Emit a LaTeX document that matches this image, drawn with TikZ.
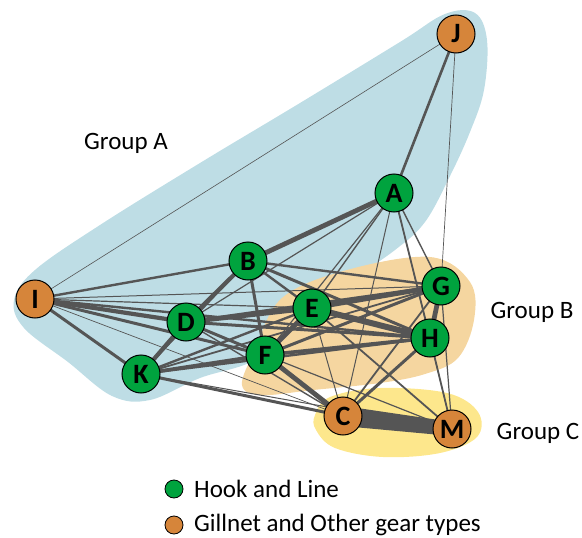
\documentclass[tikz,border=0pt]{standalone}
\usepackage{fontspec}
\setmainfont{Carlito}
\usetikzlibrary{calc}
\definecolor{hullA}{RGB}{190,221,229}
\definecolor{hullB}{RGB}{245,214,160}
\definecolor{hullC}{RGB}{253,231,140}
\definecolor{hookgreen}{RGB}{0,163,62}
\definecolor{gillorange}{RGB}{214,133,58}
\definecolor{linkgrey}{RGB}{85,85,85}
\begin{document}
\begin{tikzpicture}[x=1pt,y=-1pt,
  vessel/.style={circle,draw=black,line width=1pt,minimum size=38pt,inner sep=0pt,
    font=\fontsize{28}{28}\selectfont\bfseries},
  hook/.style={vessel,fill=hookgreen},
  gill/.style={vessel,fill=gillorange},
  link/.style={draw=linkgrey,line cap=round},
  grouplabel/.style={font=\fontsize{25}{25}\selectfont,inner sep=0pt},
  legenddot/.style={circle,draw=black,line width=0.8pt,minimum size=18pt,inner sep=0pt},
  legendtext/.style={font=\fontsize{25}{25}\selectfont,inner sep=0pt,anchor=west}]
\useasboundingbox (0,0) rectangle (582,538);

% group hulls
\fill[hullA] plot[smooth cycle,tension=0.6] coordinates {
  (14,300) (35,270) (100,225) (200,163) (300,103) (400,42) (445,14) (475,13)
  (487,40) (484,90) (470,132) (450,176) (425,222) (395,250) (345,285)
  (300,322) (255,360) (200,378) (150,400) (112,396) (68,362) (24,328)};
\fill[hullB] plot[smooth cycle,tension=0.6] coordinates {
  (242,385) (255,350) (282,298) (347,270) (430,257) (470,282) (474,320)
  (458,358) (425,374) (380,383) (313,390) (262,395)};
\fill[hullC] plot[smooth cycle,tension=0.6] coordinates {
  (315,415) (330,397) (380,388) (447,393) (478,412) (477,437) (440,453)
  (383,457) (335,448) (316,430)};

% vessels (coordinates first so links sit under the discs)
\coordinate (J) at (456,34);
\coordinate (A) at (394,193);
\coordinate (B) at (248,261);
\coordinate (I) at (35,299);
\coordinate (D) at (186,322);
\coordinate (E) at (312,308);
\coordinate (G) at (441,286);
\coordinate (H) at (430,338);
\coordinate (F) at (265,355);
\coordinate (K) at (141,374);
\coordinate (C) at (343,416);
\coordinate (M) at (452,429);

% links, line width ~ strength
\foreach \a/\b/\w in {
  J/A/2.6, J/I/0.6, J/G/0.7,
  A/B/4.8, A/D/1.2, A/E/1.4, A/F/1.2, A/C/1, A/H/1.8, A/G/1.4, A/M/0.7,
  I/B/2.4, I/G/1, I/E/1.2, I/D/4.2, I/F/3, I/H/2.4, I/K/3, I/C/0.7,
  B/D/4.2, B/K/1.2, B/F/3, B/E/2.4, B/G/2.4, B/H/3,
  D/E/4.8, D/G/3, D/H/3, D/F/3, D/K/4.2, D/C/1.4,
  E/G/4.8, E/H/6, E/F/4.8, E/K/2.4, E/C/1, E/M/1.8,
  G/H/4.8, G/F/3, G/K/1.8, G/C/1.8, G/M/1.2,
  H/F/3.6, H/K/2.4, H/C/3, H/M/1.8,
  F/K/3.6, F/C/4.8, F/M/1.2,
  K/C/3, K/M/1}
  \draw[link,line width=\w pt] (\a) -- (\b);
% strongest link, tapering from C to M
\fill[linkgrey] ($(C)!10pt!90:(M)$) -- ($(M)!7pt!-90:(C)$)
  -- ($(M)!7pt!90:(C)$) -- ($(C)!10pt!-90:(M)$) -- cycle;

% vessel discs
\node[gill] (nJ) at (J) {J};
\node[hook] (nA) at (A) {A};
\node[hook] (nB) at (B) {B};
\node[gill] (nI) at (I) {I};
\node[hook] (nD) at (D) {D};
\node[hook] (nE) at (E) {E};
\node[hook] (nG) at (G) {G};
\node[hook] (nH) at (H) {H};
\node[hook] (nF) at (F) {F};
\node[hook] (nK) at (K) {K};
\node[gill] (nC) at (C) {C};
\node[gill] (nM) at (M) {M};

% group labels
\node[grouplabel] (gA) at (126,143) {Group A};
\node[grouplabel] (gB) at (532,312) {Group B};
\node[grouplabel] (gC) at (538,433) {Group C};

% legend
\node[legenddot,fill=hookgreen] (lg) at (174,489) {};
\node[legendtext] (lgt) at (194,489) {Hook and Line};
\node[legenddot,fill=gillorange] (lo) at (174,525) {};
\node[legendtext] (lot) at (194,525) {Gillnet and Other gear types};
\end{tikzpicture}
\end{document}
